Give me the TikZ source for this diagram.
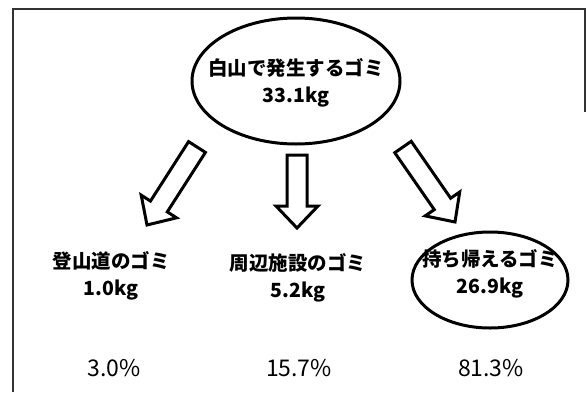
\documentclass[tikz,border=0pt]{standalone}
\usepackage{fontspec}
\setmainfont{Noto Sans CJK JP}
\usetikzlibrary{shapes.geometric,calc}
\newcommand\blockarrow[2]{%
  \coordinate (hb) at ($(#2)!22pt!(#1)$);
  \draw[blockarr] ($(#1)!10pt!90:(#2)$) -- ($(hb)!10pt!-90:(#1)$) -- ($(hb)!21pt!-90:(#1)$) -- (#2)
    -- ($(hb)!21pt!90:(#1)$) -- ($(hb)!10pt!90:(#1)$) -- ($(#1)!10pt!-90:(#2)$) -- cycle;}
\begin{document}
\begin{tikzpicture}[x=1pt,y=-1pt,
  frameline/.style={line width=1.5pt, draw=black!80},
  oval/.style={draw, ellipse, line width=3pt, inner sep=0pt},
  lbl/.style={align=center, font=\fontsize{19.5}{27}\selectfont\bfseries, inner sep=0pt},
  pct/.style={font=\fontsize{23}{26}\selectfont, inner sep=0pt},
  blockarr/.style={draw, line width=3pt, fill=white, line join=miter}]
\useasboundingbox (0,0) rectangle (587,392);
\draw[frameline] (13,392) -- (13,9) -- (585,9) -- (585,112);
% top
\node[oval, minimum width=208pt, minimum height=126pt] (top) at (296,81) {};
\node[lbl] (toptxt) at (296,83) {白山で発生するゴミ\\33.1kg};
% bottom labels
\node[lbl] (l1) at (111,276) {登山道のゴミ\\1.0kg};
\node[lbl] (l2) at (298,278) {周辺施設のゴミ\\5.2kg};
\node[oval, minimum width=156pt, minimum height=96pt] (l3o) at (490,280) {};
\node[lbl] (l3) at (490,274) {持ち帰えるゴミ\\26.9kg};
% arrows
\coordinate (a1s) at (197,147); \coordinate (a1e) at (147,225);
\coordinate (a2s) at (297,155); \coordinate (a2e) at (297,228);
\coordinate (a3s) at (403,147); \coordinate (a3e) at (455,222);
\blockarrow{a1s}{a1e}
\blockarrow{a2s}{a2e}
\blockarrow{a3s}{a3e}
% percentages
\node[pct] (p1) at (114,368) {3.0\%};
\node[pct] (p2) at (299,368) {15.7\%};
\node[pct] (p3) at (491,368) {81.3\%};
\end{tikzpicture}
\end{document}
